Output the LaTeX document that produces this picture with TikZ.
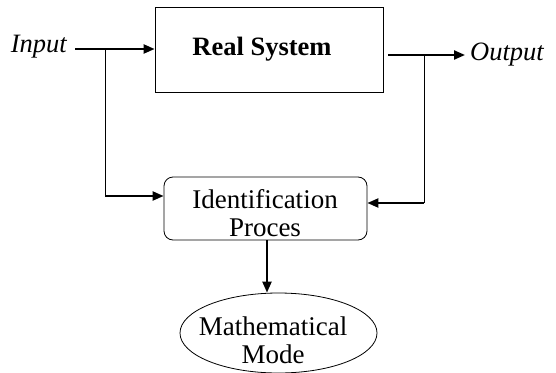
\documentclass[tikz,border=0pt]{standalone}
\usepackage{fontspec}
\setmainfont{Liberation Serif}
\usetikzlibrary{arrows.meta,shapes.geometric}
\begin{document}
\begin{tikzpicture}[x=1pt,y=-1pt,
  thickarrow/.style={line width=2.2pt,-{Triangle[length=11pt,width=9pt]}},
  thinline/.style={line width=1pt},
  boxstyle/.style={draw,line width=0.8pt,inner sep=0pt},
  lbl/.style={font=\fontsize{27}{28}\selectfont,inner sep=0pt,align=center}]
\useasboundingbox (0,0) rectangle (556,372);
\node[boxstyle,minimum width=228pt,minimum height=85pt] (rs) at (269,49.5) {};
\node[lbl,font=\fontsize{26.5}{28}\selectfont\bfseries] (rstext) at (262,49) {Real System};
\node[lbl,font=\fontsize{26.5}{28}\selectfont\itshape,anchor=east] (in) at (67,47) {Input};
\node[lbl,font=\fontsize{26.5}{28}\selectfont\itshape,anchor=west] (out) at (470,55) {Output};
\node[boxstyle,rounded corners=9pt,minimum width=203pt,minimum height=63pt] (id) at (265.5,208.5) {};
\node[lbl] (idtext) at (265,213) {Identification\\Proces};
\node[boxstyle,ellipse,minimum width=197pt,minimum height=80pt] (mm) at (278.5,333) {};
\node[lbl] (mmtext) at (273,340) {Mathematical\\Mode};
\coordinate (inL) at (75,49);
\coordinate (inB) at (105,49);
\coordinate (outR) at (465,55);
\coordinate (outB) at (424,55);
\draw[thickarrow] (inL) -- (rs.west |- inL);
\draw[thickarrow] (rs.east |- outR) ++(5,0) -- (outR);
\draw[thinline] (inB) -- (inB |- 0,196);
\draw[thickarrow] (inB |- 0,196) -- (id.west |- 0,196);
\draw[thinline] (outB) -- (outB |- 0,203);
\draw[thickarrow] (outB |- 0,203) -- (id.east |- 0,203);
\draw[thickarrow] (267,240) -- (mm.north -| 267,0);
\end{tikzpicture}
\end{document}
